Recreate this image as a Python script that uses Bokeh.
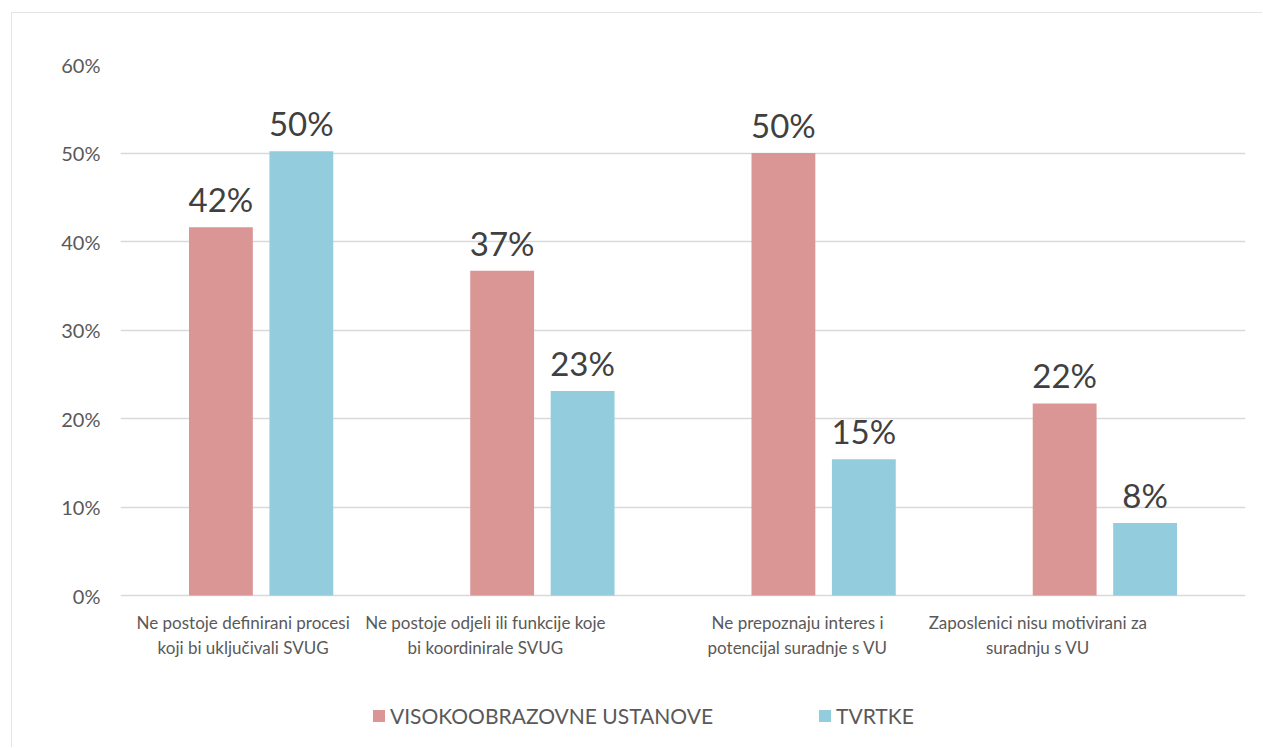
from bokeh.plotting import figure
from bokeh.models import (ColumnDataSource, FactorRange, Range1d, NumeralTickFormatter,
                          Legend, LegendItem, FixedTicker)
from bokeh.transform import dodge
from bokeh.embed import file_html
from bokeh.resources import INLINE
from bokeh.core.properties import value

categories = [
    "Ne postoje definirani procesi\nkoji bi uključivali SVUG",
    "Ne postoje odjeli ili funkcije koje\nbi koordinirale SVUG",
    "Ne prepoznaju interes i\npotencijal suradnje s VU",
    "Zaposlenici nisu motivirani za\nsuradnju s VU",
]
series_names = ["VISOKOOBRAZOVNE USTANOVE", "TVRTKE"]
vu_values = [0.416, 0.367, 0.500, 0.217]
tv_values = [0.502, 0.231, 0.154, 0.082]
y_ticks = [0, 0.1, 0.2, 0.3, 0.4, 0.5, 0.6]

# layout (pixels): label horizontal shifts as in the original
label_dx = [-18, -57, -26, -67]

RED = "#D99694"
BLUE = "#93CDDD"
FONT = "Lato"

W, H = 1251, 735
TOP, LEFT, RIGHT, BOTTOM = 51, 108, 18, 3
ZERO_PX = 582              # y pixel of 0% inside the figure
y_end = 0.6
y_start = -y_end * (H - BOTTOM - ZERO_PX) / (ZERO_PX - TOP)

src = ColumnDataSource(dict(
    cat=categories,
    vu=vu_values,
    tv=tv_values,
    vu_lbl=[f"{round(v*100):.0f}%" for v in vu_values],
    tv_lbl=[f"{round(v*100):.0f}%" for v in tv_values],
    zero=[0] * len(categories),
    dx=label_dx,
))

p = figure(x_range=FactorRange(*categories), y_range=Range1d(y_start, y_end),
           width=W, height=H, output_backend="svg", toolbar_location=None,
           min_border_left=LEFT, min_border_right=RIGHT, min_border_top=TOP,
           min_border_bottom=BOTTOM)
p.outline_line_color = None
p.styles = {"margin-left": "11px", "margin-top": "12px",
            "border-left": "1px solid #e4e4e4", "border-top": "1px solid #e4e4e4"}

off = 0.143
w = 0.227
r1 = p.vbar(x=dodge("cat", -off, range=p.x_range), top="vu", width=w, source=src,
            fill_color=RED, line_color=None)
r2 = p.vbar(x=dodge("cat", off, range=p.x_range), top="tv", width=w, source=src,
            fill_color=BLUE, line_color=None)

p.text(x=dodge("cat", -off, range=p.x_range), y="vu", text="vu_lbl", source=src,
       text_align="center", text_baseline="bottom", y_offset=-8,
       text_font=value(FONT), text_font_size="33px", text_color="#404040")
p.text(x=dodge("cat", off, range=p.x_range), y="tv", text="tv_lbl", source=src,
       text_align="center", text_baseline="bottom", y_offset=-8,
       text_font=value(FONT), text_font_size="33px", text_color="#404040")

# category labels
p.text(x="cat", y="zero", text="cat", source=src, x_offset="dx", y_offset=16,
       text_align="center", text_baseline="top", text_line_height=1.22,
       text_font=value(FONT), text_font_size="17px", text_color="#595959")

p.xaxis.visible = False

p.yaxis.ticker = FixedTicker(ticks=y_ticks)
p.yaxis.formatter = NumeralTickFormatter(format="0%")
p.yaxis.axis_line_color = None
p.yaxis.major_tick_line_color = None
p.yaxis.minor_tick_line_color = None
p.yaxis.major_tick_out = 0
p.yaxis.major_tick_in = 0
p.yaxis.major_label_standoff = 20
p.yaxis.major_label_text_font = FONT
p.yaxis.major_label_text_font_size = "20px"
p.yaxis.major_label_text_color = "#595959"

p.xgrid.grid_line_color = None
p.ygrid.grid_line_color = "#d9d9d9"
p.ygrid.grid_line_width = 1.5

legend = Legend(items=[LegendItem(label=series_names[0], renderers=[r1]),
                       LegendItem(label=series_names[1], renderers=[r2])],
                orientation="horizontal", location=(251, 17),
                label_text_font=FONT, label_text_font_size="21px",
                label_text_color="#595959", glyph_width=15, glyph_height=15,
                label_standoff=4, spacing=104, border_line_color=None,
                background_fill_alpha=0, padding=0, margin=0)
p.add_layout(legend, "center")

open("out.html", "w").write(file_html(p, INLINE))
